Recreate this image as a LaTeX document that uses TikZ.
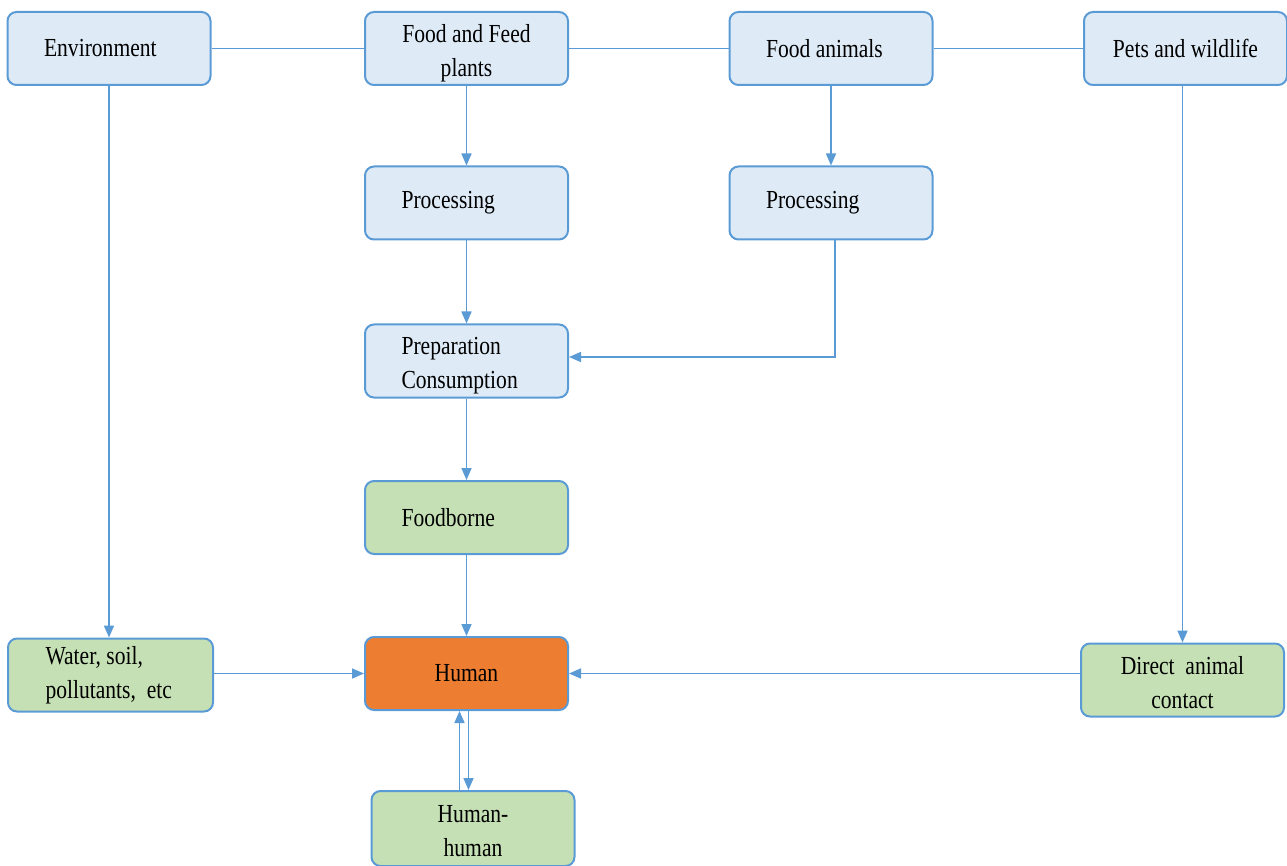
\documentclass[tikz,border=0pt]{standalone}
\usepackage{fontspec}
\setmainfont[FakeStretch=0.83]{Liberation Serif}
\usetikzlibrary{arrows.meta}

\definecolor{lineblue}{RGB}{91,155,213}
\definecolor{boxblue}{RGB}{222,235,247}
\definecolor{boxgreen}{RGB}{197,224,180}
\definecolor{boxorange}{RGB}{237,125,49}

\tikzset{
  box/.style={draw=lineblue, line width=2pt, rounded corners=9pt,
    minimum width=203pt, minimum height=73pt, inner sep=0pt,
    font=\fontsize{26}{34}\selectfont},
  lbox/.style={box, text width=130pt, align=flush left},
  cbox/.style={box, align=center},
  twoline/.style={text height=62pt, text depth=6pt},
  ltwoline/.style={text height=18pt, text depth=30pt},
  link/.style={draw=lineblue, line width=1.7pt},
  arr/.style={link, -{Triangle[length=12pt,width=10pt]}}
}

\begin{document}
\begin{tikzpicture}[x=1pt,y=-1pt]
        \useasboundingbox (0,0) rectangle (1287,866);
        % top row
        \node [lbox, fill=boxblue] (env) at (109,48.5) {Environment};
        \node [cbox, twoline, fill=boxblue] (plants) at (466.5,48.5) {Food and Feed\\plants};
        \node [lbox, fill=boxblue] (animals) at (831,48.5) {Food animals};
        \node [cbox, fill=boxblue] (pets) at (1185.5,48.5) {Pets and wildlife};
        % processing
        \node [lbox, fill=boxblue] (procplants) at (466.5,203) {Processing};
        \node [lbox, fill=boxblue] (procanimals) at (831,203) {Processing};
        \node [lbox, ltwoline, fill=boxblue] (prep) at (466.5,361) {Preparation\\Consumption};
        % routes
        \node [lbox, fill=boxgreen] (foodborne) at (466.5,517.5) {Foodborne};
        \node [lbox, fill=boxgreen, minimum width=205pt] (water) at (110.5,675) {Water, soil,\\pollutants,~ etc};
        \node [cbox, fill=boxorange] (human) at (466.5,673.5) {Human};
        \node [cbox, twoline, fill=boxgreen] (contact) at (1182.5,680) {Direct~ animal\\contact};
        \node [cbox, twoline, fill=boxgreen, minimum height=75pt] (hh) at (473,828.5) {Human-\\human};
        % top links
        \draw [link] (env.east) -- (plants.west);
        \draw [link] (plants.east) -- (animals.west);
        \draw [link] (animals.east) -- (pets.west);
        % food chain
        \draw [arr] (plants.south) -- (procplants.north);
        \draw [arr] (animals.south) -- (procanimals.north);
        \draw [arr] (procplants.south) -- (prep.north);
        \draw [arr] ([xshift=4pt]procanimals.south) |- ([yshift=4pt]prep.east);
        \draw [arr] (prep.south) -- (foodborne.north);
        \draw [arr] (foodborne.south) -- (human.north);
        % side routes
        \draw [arr] (env.south) -- (env.south |- water.north);
        \draw [arr] (contact.north |- pets.south) -- (contact.north);
        \draw [arr] (water.east |- human.west) -- (human.west);
        \draw [arr] (contact.west |- human.east) -- (human.east);
        % human to human
        \draw [arr] ([xshift=-7pt]human.south |- hh.north) -- ([xshift=-7pt]human.south);
        \draw [arr] ([xshift=2pt]human.south) -- ([xshift=2pt]human.south |- hh.north);
    \end{tikzpicture}
\end{document}
